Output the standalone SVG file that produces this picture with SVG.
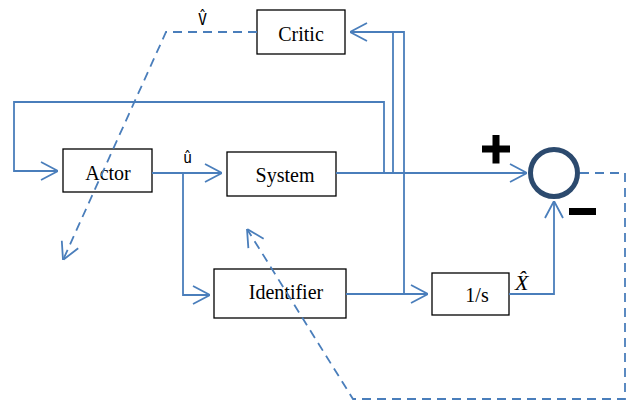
<svg xmlns="http://www.w3.org/2000/svg" width="629" height="401" viewBox="0 0 629 401">
<defs>
<style>
.box{fill:none;stroke:#000;stroke-width:1.3}
.lbl{font-family:'Liberation Serif',serif;font-size:20px;fill:#000;text-anchor:middle}
.w{fill:none;stroke:#4a7ebb;stroke-width:1.8}
.d{fill:none;stroke:#4a7ebb;stroke-width:1.8;stroke-dasharray:9 6}
.sym{font-family:'DejaVu Sans Mono',monospace;font-size:15px;fill:#000}
</style>
<marker id="ah" viewBox="0 0 18 20" refX="18" refY="10" markerWidth="18" markerHeight="20" markerUnits="userSpaceOnUse" orient="auto">
<path d="M1,1 L18,10 L1,19" fill="none" stroke="#4a7ebb" stroke-width="1.8"/>
</marker>
</defs>
<rect width="629" height="401" fill="#fff"/>
<g id="critic">
<rect class="box" x="257" y="10" width="88" height="44"/>
<text class="lbl" x="301" y="41">Critic</text>
</g>
<g id="actor">
<rect class="box" x="63" y="149" width="89" height="43"/>
<text class="lbl" x="108" y="180">Actor</text>
</g>
<g id="system">
<rect class="box" x="227" y="152" width="109" height="44"/>
<text class="lbl" x="285" y="182">System</text>
</g>
<g id="identifier">
<rect class="box" x="214" y="269" width="132" height="49"/>
<text class="lbl" x="286" y="299">Identifier</text>
</g>
<g id="integrator">
<rect class="box" x="432" y="273" width="77" height="42"/>
<text class="lbl" x="477" y="302">1/s</text>
</g>
<g id="sum">
<circle cx="554" cy="173" r="23.5" fill="none" stroke="#2c4a6e" stroke-width="5"/>
<path d="M492.5,135 h7 v10.5 h10.5 v7 h-10.5 v11 h-7 v-11 h-10.5 v-7 h10.5 z" fill="#000"/>
<rect x="569" y="208" width="27" height="7" fill="#000"/>
</g>
<g id="connectors">
<path class="w" d="M152,173 H222" marker-end="url(#ah)"/>
<path class="w" d="M183,173 V295 H210" marker-end="url(#ah)"/>
<path class="w" d="M336,173 H527" marker-end="url(#ah)"/>
<path class="w" d="M384,173 V102 H14 V171 H58" marker-end="url(#ah)"/>
<path class="w" d="M393,173 V32"/>
<path class="w" d="M404,294 V32 H350" marker-end="url(#ah)"/>
<path class="w" d="M346,294 H428" marker-end="url(#ah)"/>
<path class="w" d="M509,294 H554 V201" marker-end="url(#ah)"/>
<path class="d" d="M257,32 H166 L63,260" marker-end="url(#ah)"/>
<path class="d" d="M580,173 H625 V399 H353 L247,229" marker-end="url(#ah)"/>
</g>
<g id="labels">
<text class="sym" x="198" y="25">V̂</text>
<text class="sym" x="183" y="163">û</text>
<text x="515" y="290" font-family="'Liberation Serif',serif" font-style="italic" font-size="22">X̂</text>
</g>
</svg>
